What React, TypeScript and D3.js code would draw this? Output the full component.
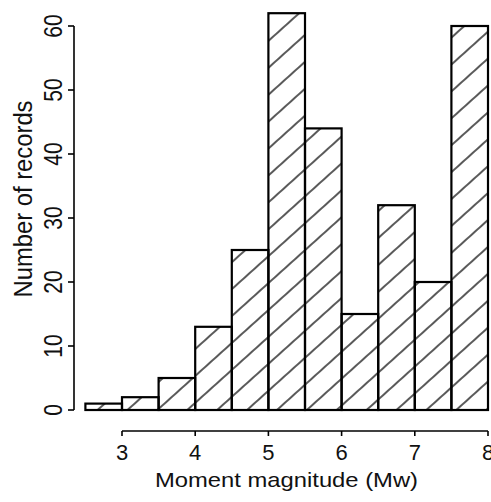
import React from "react";
import * as d3 from "d3";

const binStarts = [2.5, 3, 3.5, 4, 4.5, 5, 5.5, 6, 6.5, 7, 7.5];
const binWidth = 0.5;
const counts = [1, 2, 5, 13, 25, 62, 44, 15, 32, 20, 60];
const xTicks = [3, 4, 5, 6, 7, 8];
const yTicks = [0, 10, 20, 30, 40, 50, 60];
const xTitle = "Moment magnitude (Mw)";
const yTitle = "Number of records";

const W = 491;
const H = 502;
const FONT = "'Liberation Sans', Arial, Helvetica, sans-serif";

export default function App() {
  const x = d3.scaleLinear().domain([3, 8]).range([122, 488]);
  const y = d3.scaleLinear().domain([0, 60]).range([410, 26]);
  const axisY = 431;
  const axisX = 74;

  return (
    <svg
      width={W}
      height={H}
      style={{ position: "absolute", left: 0, top: 0, background: "#fff" }}
    >
      <defs>
        <pattern
          id="hatch"
          patternUnits="userSpaceOnUse"
          width={20}
          height={20}
          patternTransform="rotate(-42)"
        >
          <line x1={0} y1={10} x2={20} y2={10} stroke="#000" strokeWidth={1.3} />
        </pattern>
      </defs>
      <rect x={0} y={0} width={W} height={H} fill="#fff" />
      {binStarts.map((b, i) => (
        <rect
          key={i}
          x={x(b)}
          y={y(counts[i])}
          width={x(b + binWidth) - x(b)}
          height={y(0) - y(counts[i])}
          fill="url(#hatch)"
          stroke="#000"
          strokeWidth={2.2}
        />
      ))}
      <line
        x1={x(xTicks[0])}
        x2={x(xTicks[xTicks.length - 1])}
        y1={axisY}
        y2={axisY}
        stroke="#000"
        strokeWidth={1.6}
      />
      {xTicks.map((t) => (
        <g key={t}>
          <line x1={x(t)} x2={x(t)} y1={axisY} y2={axisY + 5} stroke="#000" strokeWidth={1.6} />
          <text
            x={x(t)}
            y={460}
            textAnchor="middle"
            fontFamily={FONT}
            fontSize={22}
            fill="#111"
          >
            {t}
          </text>
        </g>
      ))}
      <text
        x={155}
        y={487}
        fontFamily={FONT}
        fontSize={21}
        textLength={263}
        lengthAdjust="spacingAndGlyphs"
        fill="#111"
      >
        {xTitle}
      </text>
      <line
        x1={axisX}
        x2={axisX}
        y1={y(0)}
        y2={y(60)}
        stroke="#000"
        strokeWidth={1.6}
      />
      {yTicks.map((t) => (
        <g key={t}>
          <line x1={axisX - 6} x2={axisX} y1={y(t)} y2={y(t)} stroke="#000" strokeWidth={1.6} />
          <text
            transform={`translate(62,${y(t)}) rotate(-90) scale(1,1.2)`}
            textAnchor="middle"
            fontFamily={FONT}
            fontSize={21}
            fill="#111"
          >
            {t}
          </text>
        </g>
      ))}
      <text
        transform={`translate(32,${199}) rotate(-90) scale(1,1.2)`}
        x={-98.5}
        fontFamily={FONT}
        fontSize={21}
        textLength={197}
        lengthAdjust="spacingAndGlyphs"
        fill="#111"
      >
        {yTitle}
      </text>
    </svg>
  );
}
